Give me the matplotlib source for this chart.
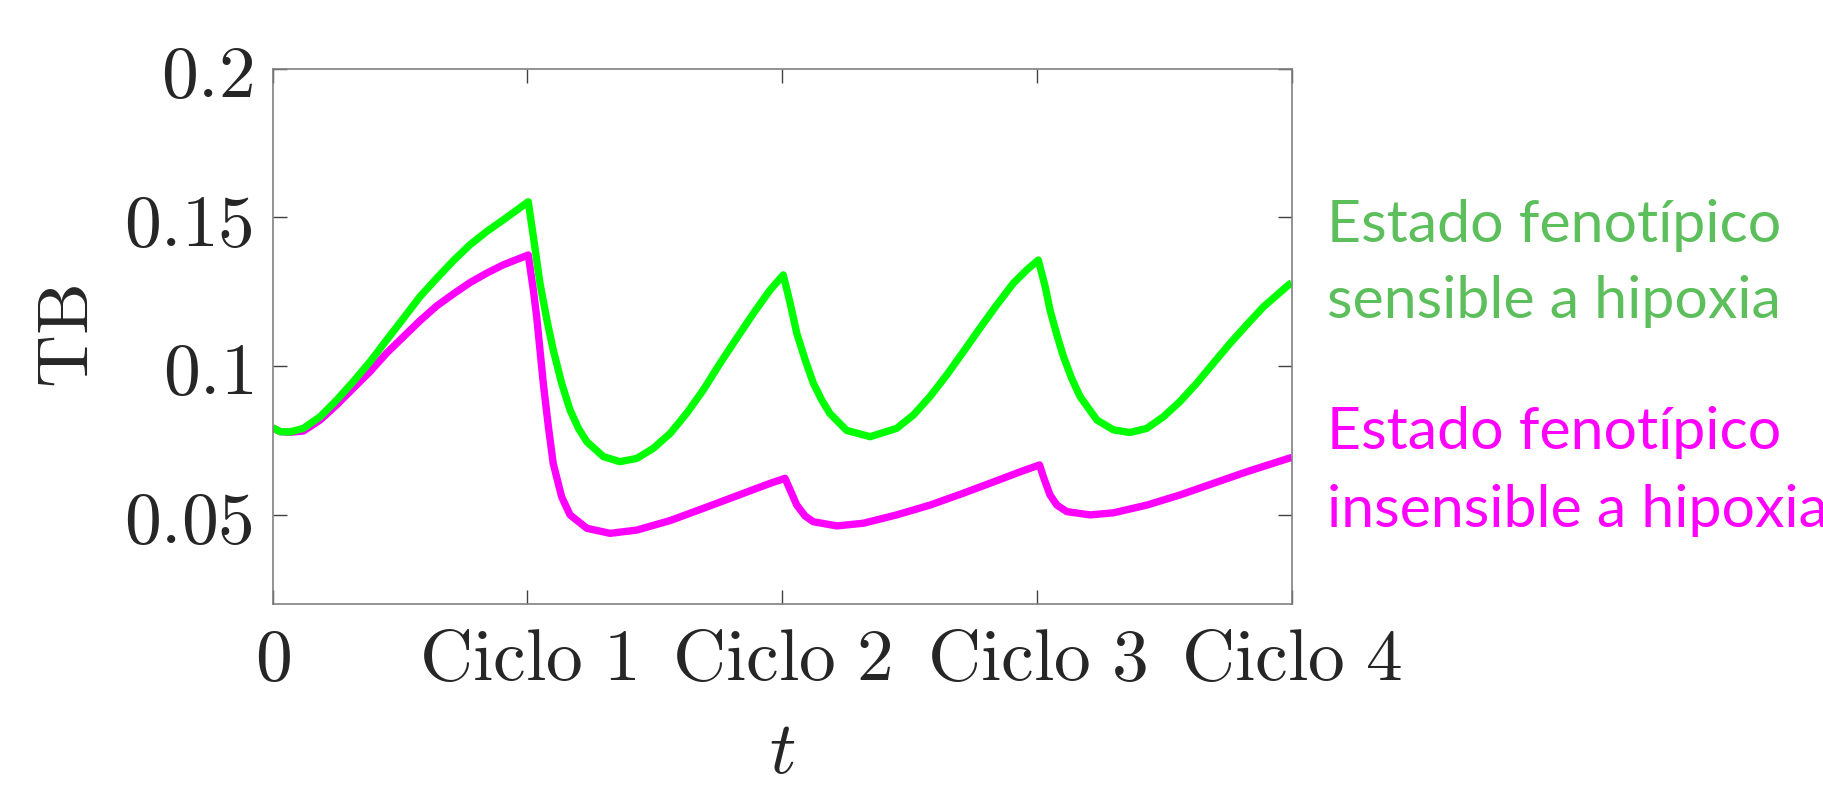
import matplotlib
matplotlib.use("Agg")
import matplotlib.pyplot as plt

plt.rcParams['mathtext.fontset'] = 'cm'

# t en ciclos, TB
t_sens = [0.0, 0.029, 0.068, 0.120, 0.186, 0.251, 0.316, 0.382, 0.447, 0.513, 0.578,
          0.644, 0.709, 0.774, 0.840, 0.905, 1.003,
          1.023, 1.049, 1.076, 1.101, 1.134, 1.167, 1.200, 1.233, 1.298, 1.363, 1.429,
          1.494, 1.560, 1.625, 1.690, 1.756, 1.821, 1.887, 1.952, 2.004,
          2.031, 2.057, 2.090, 2.122, 2.155, 2.188, 2.253, 2.345, 2.449, 2.515, 2.580,
          2.646, 2.711, 2.776, 2.842, 2.907, 2.960, 3.005,
          3.032, 3.051, 3.078, 3.104, 3.136, 3.169, 3.235, 3.300, 3.365, 3.431, 3.496,
          3.561, 3.627, 3.692, 3.758, 3.823, 3.889, 3.987, 4.0]
tb_sens = [0.0792, 0.0779, 0.0778, 0.0790, 0.0829, 0.0885, 0.0947, 0.1014, 0.1087, 0.1160, 0.1233,
           0.1295, 0.1354, 0.1407, 0.1452, 0.1491, 0.1552,
           0.1435, 0.1278, 0.1155, 0.1054, 0.0942, 0.0852, 0.0790, 0.0745, 0.0695, 0.0678, 0.0689,
           0.0723, 0.0773, 0.0841, 0.0919, 0.1009, 0.1093, 0.1177, 0.1255, 0.1306,
           0.1211, 0.1110, 0.1020, 0.0942, 0.0885, 0.0839, 0.0783, 0.0762, 0.0790, 0.0835, 0.0897,
           0.0970, 0.1048, 0.1127, 0.1205, 0.1278, 0.1323, 0.1356,
           0.1267, 0.1188, 0.1104, 0.1031, 0.0958, 0.0897, 0.0818, 0.0785, 0.0776, 0.0790, 0.0829,
           0.0880, 0.0942, 0.1009, 0.1076, 0.1138, 0.1199, 0.1272, 0.1280]

t_ins = [0.0, 0.029, 0.068, 0.120, 0.186, 0.251, 0.316, 0.382, 0.447, 0.513, 0.578,
         0.644, 0.709, 0.774, 0.840, 0.905, 1.003,
         1.023, 1.036, 1.049, 1.062, 1.082, 1.101, 1.134, 1.167, 1.233, 1.324, 1.429,
         1.560, 1.690, 1.821, 1.952, 2.011,
         2.031, 2.057, 2.090, 2.122, 2.214, 2.318, 2.449, 2.580, 2.711, 2.842, 2.934, 3.010,
         3.025, 3.051, 3.078, 3.117, 3.208, 3.300, 3.431, 3.561, 3.692, 3.823, 3.987, 4.0]
tb_ins = [0.0792, 0.0779, 0.0777, 0.0781, 0.0818, 0.0869, 0.0925, 0.0981, 0.1043, 0.1098, 0.1152,
          0.1202, 0.1242, 0.1280, 0.1312, 0.1340, 0.1373,
          0.1255, 0.1166, 0.1054, 0.0942, 0.0796, 0.0672, 0.0560, 0.0499, 0.0454, 0.0437, 0.0448,
          0.0480, 0.0521, 0.0563, 0.0605, 0.0622,
          0.0583, 0.0532, 0.0495, 0.0476, 0.0462, 0.0471, 0.0499, 0.0532, 0.0572, 0.0614, 0.0644, 0.0667,
          0.0627, 0.0566, 0.0532, 0.0510, 0.0499, 0.0506, 0.0532, 0.0566, 0.0605, 0.0644, 0.0689, 0.0692]

xticks = [0, 1, 2, 3, 4]
xlabels = [r'$0$', r'$\mathrm{Ciclo\ 1}$', r'$\mathrm{Ciclo\ 2}$',
           r'$\mathrm{Ciclo\ 3}$', r'$\mathrm{Ciclo\ 4}$']
yticks = [0.05, 0.1, 0.15, 0.2]
ylabels = [r'$0.05$', r'$0.1$', r'$0.15$', r'$0.2$']

fig = plt.figure(figsize=(18.23, 7.85), dpi=100)
ax = fig.add_axes([0.1496, 0.2308, 0.559, 0.6819])

ax.plot(t_ins, tb_ins, color='#FF00FF', lw=5.3, solid_joinstyle='round', solid_capstyle='butt')
ax.plot(t_sens, tb_sens, color='#00FF00', lw=5.3, solid_joinstyle='round', solid_capstyle='butt')

ax.set_xlim(0, 4)
ax.set_ylim(0.02, 0.2)
ax.set_xticks(xticks)
ax.set_xticklabels(xlabels)
ax.set_yticks(yticks)
ax.set_yticklabels(ylabels)
ax.tick_params(direction='in', length=10, width=1, color='#404040',
               labelsize=53, labelcolor='#262626', top=True, right=True, pad=14)
for s in ax.spines.values():
    s.set_color('#808080')
    s.set_linewidth(1.2)

ax.set_xlabel(r'$t$', fontsize=53, color='#262626', labelpad=14)
ax.set_ylabel(r'$\mathrm{TB}$', fontsize=53, color='#262626', labelpad=14)

textos = ['Estado fenotípico', 'sensible a hipoxia', 'Estado fenotípico', 'insensible a hipoxia']
colores = ['#5CBF5C', '#5CBF5C', '#FF00FF', '#FF00FF']
bases = [242, 318, 449, 527]
for txt, col, b in zip(textos, colores, bases):
    fig.text(1327, 785 - b, txt, transform=None, fontsize=42.5, family='Lato',
             color=col, va='baseline', ha='left')

fig.savefig('out.png', dpi=100)
